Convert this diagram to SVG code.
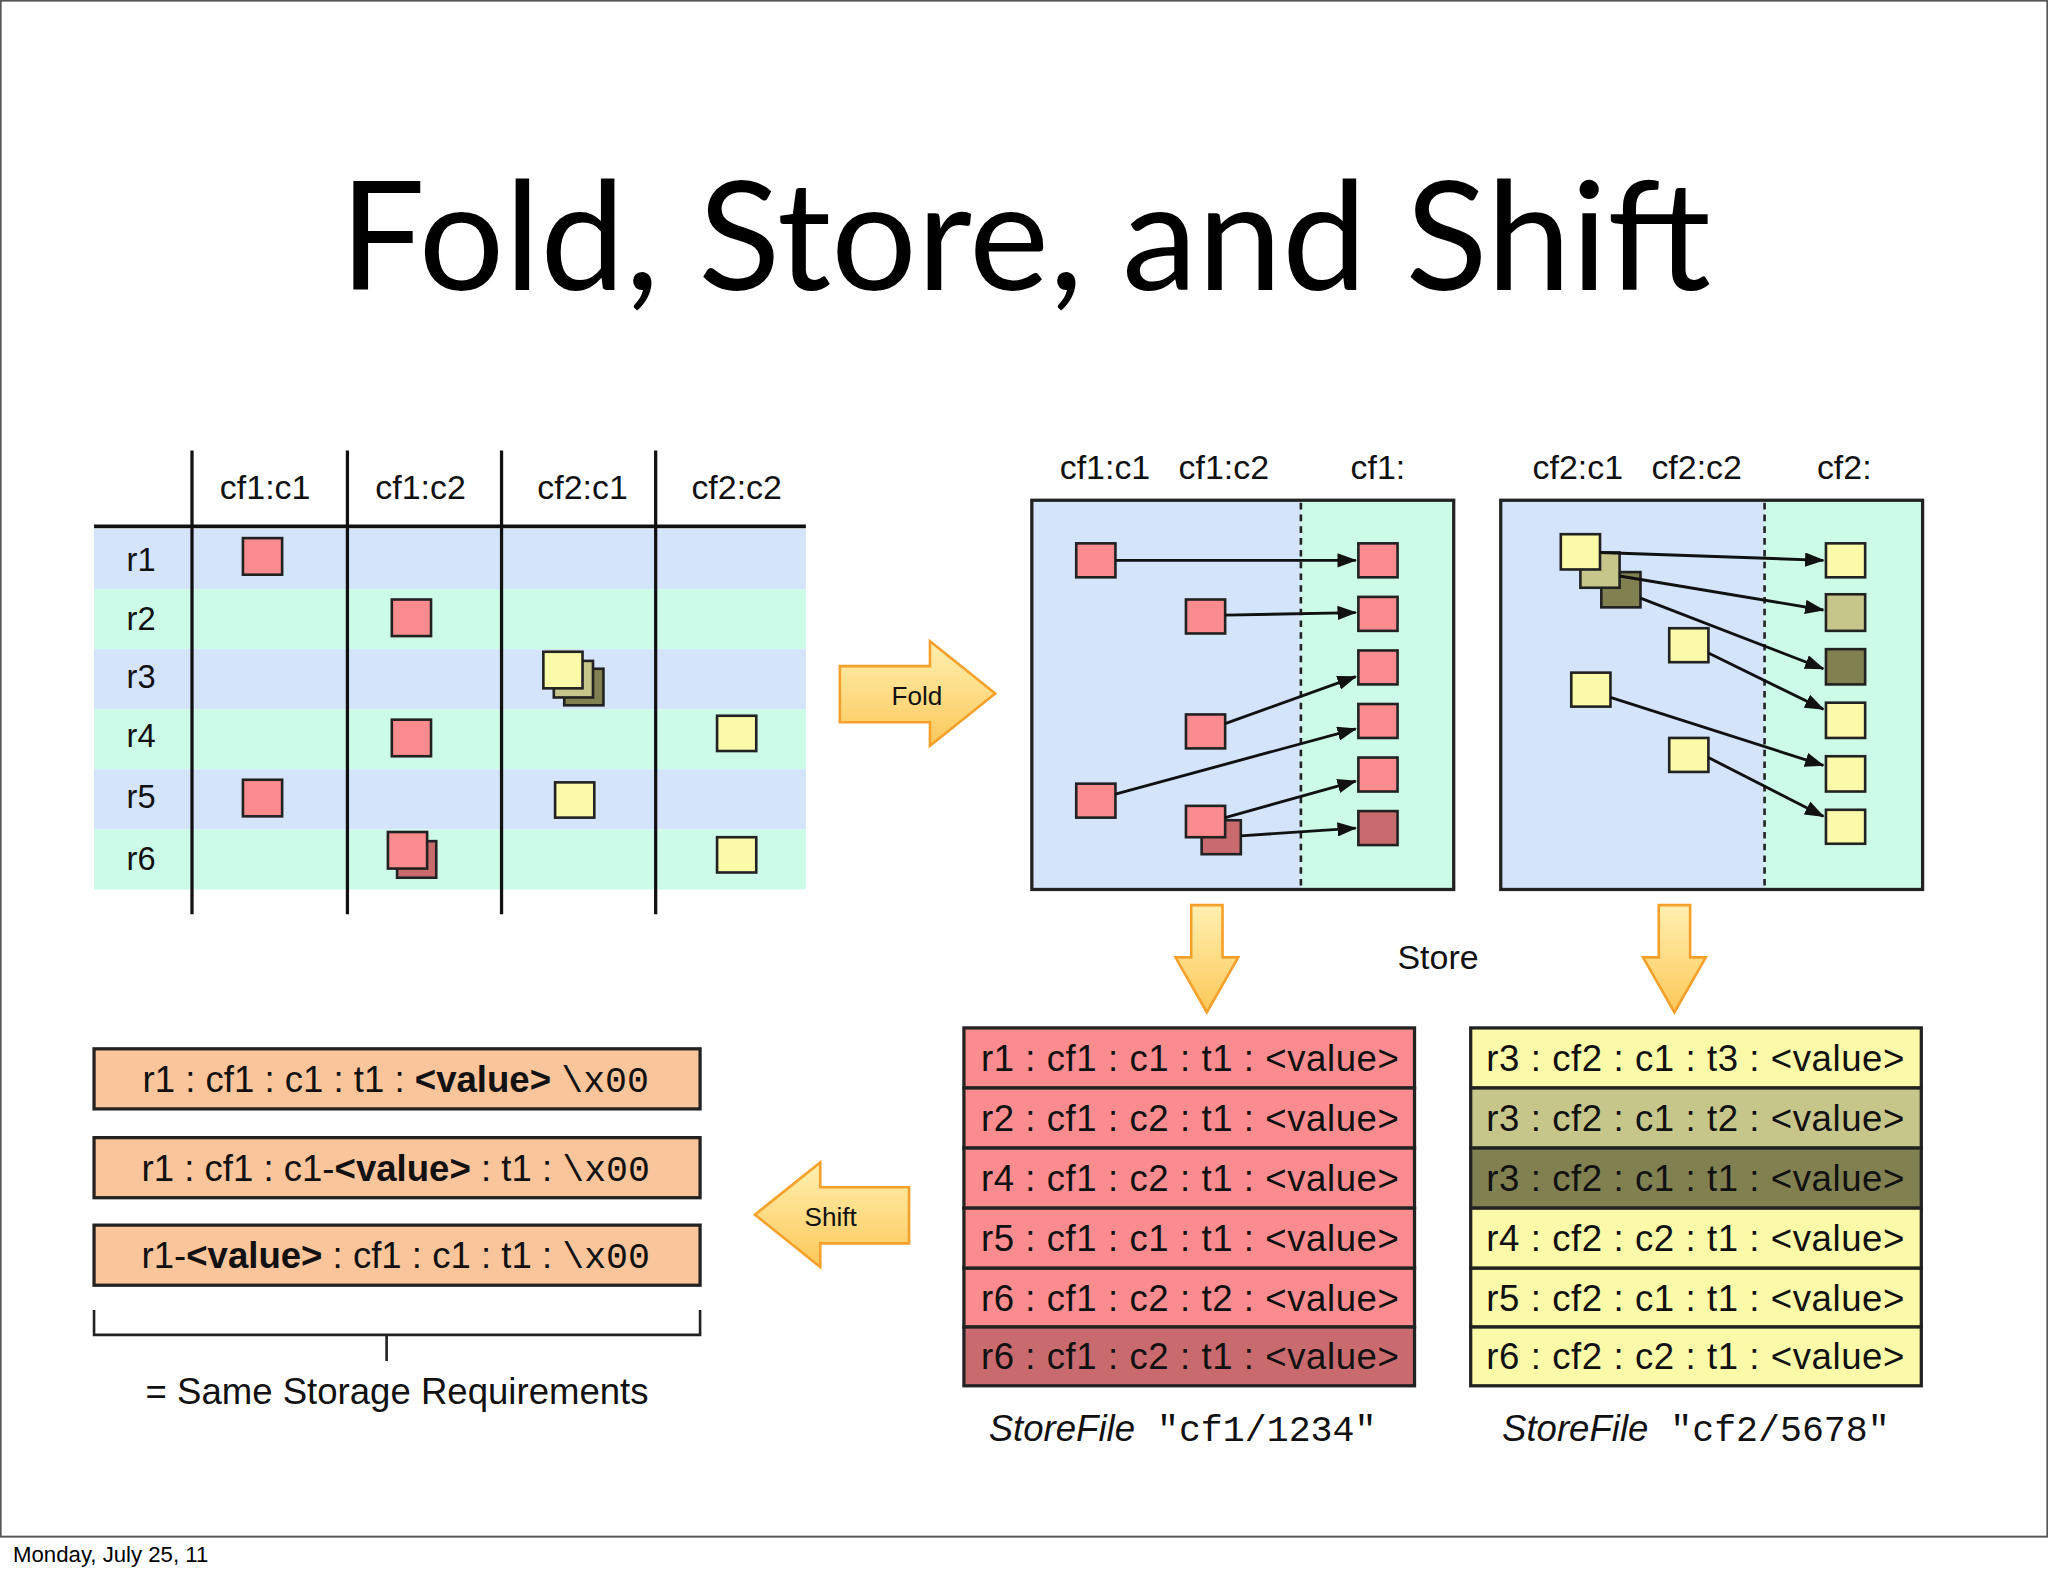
<svg xmlns="http://www.w3.org/2000/svg" width="2048" height="1576" viewBox="0 0 2048 1576">
<defs>
<style>
.t{font-family:"Liberation Sans",Arial,sans-serif;font-size:26px;fill:#111}
.r{font-size:28px}
.c{text-anchor:middle}
.m{font-family:"Liberation Mono","DejaVu Sans Mono",monospace}
.b{font-weight:bold}
.p{fill:#fa8c8f;stroke:#222;stroke-width:2}
.pd{fill:#c96a6f;stroke:#222;stroke-width:2}
.y{fill:#fafaa8;stroke:#222;stroke-width:2}
.o1{fill:#c6c68a;stroke:#222;stroke-width:2}
.o2{fill:#808050;stroke:#222;stroke-width:2}
.bl{fill:#d3e4fb}
.mi{fill:#ccfbe8}
.ln{stroke:#111;stroke-width:2.5;fill:none}
.ar{stroke:#111;stroke-width:2.2;fill:none;marker-end:url(#ah)}
.bigar{fill:url(#og);stroke:#f5a02a;stroke-width:2}
.row{stroke:#222;stroke-width:2.5}
</style>
<marker id="ah" markerWidth="15" markerHeight="11" refX="14" refY="5.5" orient="auto" markerUnits="userSpaceOnUse" viewBox="0 0 15 11"><path d="M0,0 L15,5.5 L0,11 z" fill="#111"/></marker>
<linearGradient id="og" x1="0" y1="0" x2="0" y2="1"><stop offset="0" stop-color="#fff0b0"/><stop offset="1" stop-color="#fcc85a"/></linearGradient>
</defs>
<rect width="2048" height="1576" fill="#fff"/>
<g transform="scale(1.306122)">
<rect x="0.5" y="0.5" width="1567" height="1176" fill="none" stroke="#555" stroke-width="1.5"/>
<text x="785" y="222" text-anchor="middle" style="font-family:Lato,'Open Sans',sans-serif;font-size:116px;fill:#000">Fold, Store, and Shift</text>
<text x="10" y="1196" style="font-family:'Liberation Sans',Arial,sans-serif;font-size:17px;fill:#000">Monday, July 25, 11</text>

<g id="table">
<rect class="bl" x="72" y="405" width="545" height="46"/>
<rect class="mi" x="72" y="451" width="545" height="46"/>
<rect class="bl" x="72" y="497" width="545" height="46"/>
<rect class="mi" x="72" y="543" width="545" height="46"/>
<rect class="bl" x="72" y="589" width="545" height="46"/>
<rect class="mi" x="72" y="635" width="545" height="46"/>
<line class="ln" x1="72" y1="403" x2="617" y2="403" style="stroke-width:3"/>
<line class="ln" x1="147" y1="345" x2="147" y2="700"/>
<line class="ln" x1="266" y1="345" x2="266" y2="700"/>
<line class="ln" x1="384" y1="345" x2="384" y2="700"/>
<line class="ln" x1="502" y1="345" x2="502" y2="700"/>
<text class="t c" x="203" y="382">cf1:c1</text>
<text class="t c" x="322" y="382">cf1:c2</text>
<text class="t c" x="446" y="382">cf2:c1</text>
<text class="t c" x="564" y="382">cf2:c2</text>
<text class="t c" x="108" y="437" style="font-size:25px">r1</text>
<text class="t c" x="108" y="482" style="font-size:25px">r2</text>
<text class="t c" x="108" y="527" style="font-size:25px">r3</text>
<text class="t c" x="108" y="572" style="font-size:25px">r4</text>
<text class="t c" x="108" y="619" style="font-size:25px">r5</text>
<text class="t c" x="108" y="666" style="font-size:25px">r6</text>
<rect class="p" x="186" y="412" width="30" height="28"/>
<rect class="p" x="300" y="459" width="30" height="28"/>
<rect class="o2" x="432" y="512" width="30" height="28"/>
<rect class="o1" x="424" y="506" width="30" height="28"/>
<rect class="y" x="416" y="499" width="30" height="28"/>
<rect class="p" x="300" y="551" width="30" height="28"/>
<rect class="y" x="549" y="548" width="30" height="27"/>
<rect class="p" x="186" y="597" width="30" height="28"/>
<rect class="y" x="425" y="599" width="30" height="27"/>
<rect class="pd" x="304" y="644" width="30" height="28"/>
<rect class="p" x="297" y="637" width="30" height="28"/>
<rect class="y" x="549" y="641" width="30" height="27"/>
</g>

<g id="fold">
<path class="bigar" d="M643,510 L712,510 L712,491 L762,531 L712,571 L712,553 L643,553 Z"/>
<text class="t c" x="702" y="540" style="font-size:20px">Fold</text>
</g>

<g id="cf1box">
<rect class="bl" x="790" y="383" width="206" height="298"/>
<rect class="mi" x="996" y="383" width="117" height="298"/>
<rect x="790" y="383" width="323" height="298" fill="none" stroke="#222" stroke-width="2.5"/>
<line x1="996" y1="385" x2="996" y2="680" stroke="#222" stroke-width="2" stroke-dasharray="5,4"/>
<text class="t c" x="846" y="367">cf1:c1</text>
<text class="t c" x="937" y="367">cf1:c2</text>
<text class="t c" x="1055" y="367">cf1:</text>
<rect class="p" x="824" y="416" width="30" height="26"/>
<rect class="p" x="908" y="459" width="30" height="26"/>
<rect class="p" x="908" y="547" width="30" height="26"/>
<rect class="p" x="824" y="600" width="30" height="26"/>
<rect class="pd" x="920" y="628" width="30" height="26"/>
<rect class="p" x="908" y="617" width="30" height="24"/>
<rect class="p" x="1040" y="416" width="30" height="26"/>
<rect class="p" x="1040" y="457" width="30" height="26"/>
<rect class="p" x="1040" y="498" width="30" height="26"/>
<rect class="p" x="1040" y="539" width="30" height="26"/>
<rect class="p" x="1040" y="580" width="30" height="26"/>
<rect class="pd" x="1040" y="621" width="30" height="26"/>
</g>

<g id="cf2box">
<rect class="bl" x="1149" y="383" width="202" height="298"/>
<rect class="mi" x="1351" y="383" width="121" height="298"/>
<rect x="1149" y="383" width="323" height="298" fill="none" stroke="#222" stroke-width="2.5"/>
<line x1="1351" y1="385" x2="1351" y2="680" stroke="#222" stroke-width="2" stroke-dasharray="5,4"/>
<text class="t c" x="1208" y="367">cf2:c1</text>
<text class="t c" x="1299" y="367">cf2:c2</text>
<text class="t c" x="1412" y="367">cf2:</text>
<rect class="o2" x="1226" y="438" width="30" height="27"/>
<rect class="o1" x="1210" y="423" width="30" height="27"/>
<rect class="y" x="1195" y="409" width="30" height="27"/>
<rect class="y" x="1278" y="481" width="30" height="26"/>
<rect class="y" x="1203" y="515" width="30" height="26"/>
<rect class="y" x="1278" y="565" width="30" height="26"/>
<rect class="y" x="1398" y="416" width="30" height="26"/>
<rect class="o1" x="1398" y="455" width="30" height="28"/>
<rect class="o2" x="1398" y="497" width="30" height="27"/>
<rect class="y" x="1398" y="538" width="30" height="27"/>
<rect class="y" x="1398" y="579" width="30" height="27"/>
<rect class="y" x="1398" y="620" width="30" height="26"/>
</g>

<g id="connectors">
<line class="ar" x1="854" y1="429" x2="1038" y2="429"/>
<line class="ar" x1="938" y1="471" x2="1038" y2="469"/>
<line class="ar" x1="938" y1="554" x2="1038" y2="518"/>
<line class="ar" x1="854" y1="608" x2="1038" y2="558"/>
<line class="ar" x1="938" y1="626" x2="1038" y2="598"/>
<line class="ar" x1="950" y1="640" x2="1038" y2="634"/>
<line class="ar" x1="1225" y1="423" x2="1396" y2="429"/>
<line class="ar" x1="1240" y1="441" x2="1396" y2="467"/>
<line class="ar" x1="1256" y1="458" x2="1396" y2="512"/>
<line class="ar" x1="1308" y1="500" x2="1396" y2="543"/>
<line class="ar" x1="1233" y1="534" x2="1396" y2="586"/>
<line class="ar" x1="1308" y1="580" x2="1396" y2="625"/>
</g>

<g id="store">
<path class="bigar" d="M912,693 L936,693 L936,733 L948,733 L924,775 L900,733 L912,733 Z"/>
<path class="bigar" d="M1270,693 L1294,693 L1294,733 L1306,733 L1282,775 L1258,733 L1270,733 Z"/>
<text class="t c" x="1101" y="742">Store</text>
</g>

<g id="storefile1">
<rect class="p row" x="738" y="787" width="345" height="46"/>
<rect class="p row" x="738" y="833" width="345" height="46"/>
<rect class="p row" x="738" y="879" width="345" height="46"/>
<rect class="p row" x="738" y="925" width="345" height="46"/>
<rect class="p row" x="738" y="971" width="345" height="45"/>
<rect class="pd row" x="738" y="1016" width="345" height="45"/>
<text class="t r c" x="911" y="820" textLength="320">r1 : cf1 : c1 : t1 : &lt;value&gt;</text>
<text class="t r c" x="911" y="866" textLength="320">r2 : cf1 : c2 : t1 : &lt;value&gt;</text>
<text class="t r c" x="911" y="912" textLength="320">r4 : cf1 : c2 : t1 : &lt;value&gt;</text>
<text class="t r c" x="911" y="958" textLength="320">r5 : cf1 : c1 : t1 : &lt;value&gt;</text>
<text class="t r c" x="911" y="1004" textLength="320">r6 : cf1 : c2 : t2 : &lt;value&gt;</text>
<text class="t r c" x="911" y="1048" textLength="320">r6 : cf1 : c2 : t1 : &lt;value&gt;</text>
<text class="t r" x="757" y="1103"><tspan font-style="italic">StoreFile</tspan><tspan class="m"> "cf1/1234"</tspan></text>
</g>

<g id="storefile2">
<rect class="y row" x="1126" y="787" width="345" height="46"/>
<rect class="o1 row" x="1126" y="833" width="345" height="46"/>
<rect class="o2 row" x="1126" y="879" width="345" height="46"/>
<rect class="y row" x="1126" y="925" width="345" height="46"/>
<rect class="y row" x="1126" y="971" width="345" height="45"/>
<rect class="y row" x="1126" y="1016" width="345" height="45"/>
<text class="t r c" x="1298" y="820" textLength="320">r3 : cf2 : c1 : t3 : &lt;value&gt;</text>
<text class="t r c" x="1298" y="866" textLength="320">r3 : cf2 : c1 : t2 : &lt;value&gt;</text>
<text class="t r c" x="1298" y="912" textLength="320">r3 : cf2 : c1 : t1 : &lt;value&gt;</text>
<text class="t r c" x="1298" y="958" textLength="320">r4 : cf2 : c2 : t1 : &lt;value&gt;</text>
<text class="t r c" x="1298" y="1004" textLength="320">r5 : cf2 : c1 : t1 : &lt;value&gt;</text>
<text class="t r c" x="1298" y="1048" textLength="320">r6 : cf2 : c2 : t1 : &lt;value&gt;</text>
<text class="t r" x="1150" y="1103"><tspan font-style="italic">StoreFile</tspan><tspan class="m"> "cf2/5678"</tspan></text>
</g>

<g id="shift">
<path class="bigar" d="M696,909 L628,909 L628,890 L578,930 L628,970 L628,952 L696,952 Z"/>
<text class="t c" x="636" y="939" style="font-size:20px">Shift</text>
</g>

<g id="keys">
<rect x="72" y="803" width="464" height="46" fill="#fbc59b" stroke="#222" stroke-width="2.5"/>
<rect x="72" y="871" width="464" height="46" fill="#fbc59b" stroke="#222" stroke-width="2.5"/>
<rect x="72" y="938" width="464" height="46" fill="#fbc59b" stroke="#222" stroke-width="2.5"/>
<text class="t r c" x="303" y="836">r1 : cf1 : c1 : t1 : <tspan class="b">&lt;value&gt;</tspan> <tspan class="m">\x00</tspan></text>
<text class="t r c" x="303" y="904">r1 : cf1 : c1-<tspan class="b">&lt;value&gt;</tspan> : t1 : <tspan class="m">\x00</tspan></text>
<text class="t r c" x="303" y="971">r1-<tspan class="b">&lt;value&gt;</tspan> : cf1 : c1 : t1 : <tspan class="m">\x00</tspan></text>
<path d="M72,1003 L72,1022 L536,1022 L536,1003 M296,1022 L296,1042" fill="none" stroke="#222" stroke-width="2"/>
<text class="t r c" x="304" y="1075">= Same Storage Requirements</text>
</g>
</g>
</svg>
